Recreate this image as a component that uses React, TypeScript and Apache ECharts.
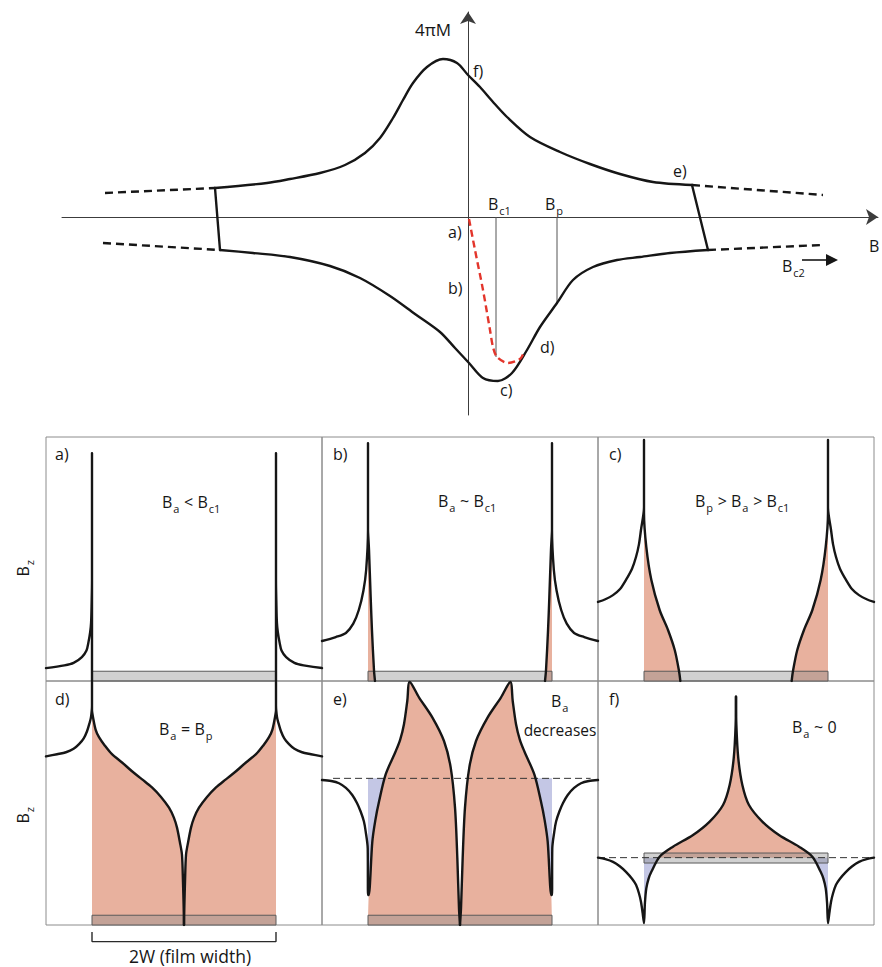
import React, { useEffect, useRef } from 'react';
import * as echarts from 'echarts';

const FONT = '"Open Sans", "Noto Sans", sans-serif';
const INK = '#161616';
const AXIS = '#3c3c3c';
const FRAME = '#8c8c8c';
const TRAPPED = '#e8b19e';
const REVERSED = '#c4c7e5';
const FILM = 'rgba(140,140,140,0.4)';
const FILM_EDGE = '#5a5a5a';
const VIRGIN = '#e3352b';

// ---------- magnetisation loop: x = applied field, y = 4πM ----------
const loopUpperLeftDash = [[-3.63, 0.24], [-2.53, 0.29]];
const loopUpperRightDash = [[2.24, 0.32], [3.55, 0.22]];
const loopLowerLeftDash = [[-3.65, -0.26], [-2.48, -0.33]];
const loopLowerRightDash = [[2.4, -0.33], [3.54, -0.28]];
const loopLeftJump = [[-2.53, 0.29], [-2.48, -0.33]];
const loopRightJump = [[2.24, 0.32], [2.4, -0.33]];
const loopUpper = [
  [-2.53, 0.29], [-2.01, 0.34], [-1.78, 0.38], [-1.48, 0.44], [-1.23, 0.52], [-1.03, 0.64],
  [-0.88, 0.79], [-0.75, 0.99], [-0.65, 1.17], [-0.55, 1.34], [-0.41, 1.5], [-0.25, 1.58],
  [-0.11, 1.54], [0, 1.42], [0.12, 1.3], [0.25, 1.15], [0.39, 1.0], [0.62, 0.8], [0.92, 0.65],
  [1.22, 0.53], [1.52, 0.43], [1.85, 0.35], [2.24, 0.32],
];
const loopLower = [
  [-2.48, -0.33], [-2.15, -0.36], [-1.78, -0.4], [-1.38, -0.49], [-1.08, -0.61], [-0.78, -0.79],
  [-0.53, -0.97], [-0.28, -1.15], [-0.13, -1.31], [0.01, -1.46], [0.15, -1.61], [0.3, -1.64],
  [0.44, -1.56], [0.59, -1.33], [0.72, -1.1], [0.89, -0.86], [1.05, -0.63], [1.25, -0.5],
  [1.49, -0.43], [1.72, -0.4], [2.02, -0.36], [2.4, -0.33],
];
const virginCurve = [
  [0.01, -0.02], [0.07, -0.33], [0.15, -0.73], [0.22, -1.13], [0.25, -1.3], [0.29, -1.4],
  [0.4, -1.46], [0.52, -1.42], [0.56, -1.35],
];
const fieldBc1 = [[0.28, 0], [0.28, -1.4]];
const fieldBp = [[0.89, 0], [0.89, -0.86]];

// ---------- Bz profiles across the strip: x in half-widths W, y in panel heights ----------
const filmStrip = [[-1, 0], [1, 0], [1, 0.04], [-1, 0.04]];

// a) Ba < Bc1
const aLeft = [[-1.5, 0.053], [-1.3, 0.064], [-1.2, 0.074], [-1.11, 0.098], [-1.06, 0.125], [-1.04, 0.156], [-1.02, 0.2], [-1.01, 0.238], [-1.004, 0.32], [-1.0, 0.414], [-1.0, 0.934], [-1.0, 0]];
const aRight = [[1.0, 0], [1.0, 0.934], [1.0, 0.414], [1.004, 0.32], [1.01, 0.238], [1.02, 0.2], [1.04, 0.156], [1.06, 0.125], [1.11, 0.098], [1.2, 0.074], [1.3, 0.064], [1.5, 0.053]];

// b) Ba ~ Bc1
const bTailL = [[-1.5, 0.164], [-1.35, 0.18], [-1.24, 0.197], [-1.16, 0.235], [-1.1, 0.291], [-1.05, 0.37], [-1.02, 0.455], [-1.0, 0.619], [-1.0, 0.975]];
const bFrontL = [[-1.0, 0.62], [-0.995, 0.58], [-0.989, 0.537], [-0.971, 0.344], [-0.957, 0.209], [-0.935, 0.045], [-0.924, 0]];
const bTailR = [[1.5, 0.164], [1.35, 0.18], [1.24, 0.197], [1.16, 0.235], [1.1, 0.291], [1.05, 0.37], [1.02, 0.455], [1.0, 0.619], [1.0, 0.975]];
const bFrontR = [[1.0, 0.62], [0.995, 0.58], [0.989, 0.537], [0.971, 0.344], [0.957, 0.209], [0.935, 0.045], [0.924, 0]];

// c) Bp > Ba > Bc1
const cTailL = [[-1.5, 0.324], [-1.42, 0.335], [-1.337, 0.352], [-1.26, 0.377], [-1.196, 0.414], [-1.13, 0.46], [-1.087, 0.508], [-1.055, 0.56], [-1.033, 0.619], [-1.0, 0.713], [-1.0, 0.988]];
const cFrontL = [[-1.0, 0.69], [-0.975, 0.55], [-0.92, 0.414], [-0.83, 0.291], [-0.739, 0.209], [-0.666, 0.127], [-0.62, 0.042], [-0.605, 0]];
const cTailR = [[1.5, 0.324], [1.42, 0.335], [1.337, 0.352], [1.26, 0.377], [1.196, 0.414], [1.13, 0.46], [1.087, 0.508], [1.055, 0.56], [1.033, 0.619], [1.0, 0.713], [1.0, 0.988]];
const cFrontR = [[1.0, 0.69], [0.975, 0.55], [0.92, 0.414], [0.83, 0.291], [0.739, 0.209], [0.666, 0.127], [0.62, 0.042], [0.605, 0]];

// d) Ba = Bp
const dTailL = [[-1.5, 0.691], [-1.38, 0.7], [-1.283, 0.708], [-1.2, 0.722], [-1.141, 0.741], [-1.09, 0.765], [-1.054, 0.794], [-1.025, 0.83], [-1.011, 0.852], [-1.0, 0.9], [-1.0, 0.996]];
const dFrontL = [[-1.0, 0.88], [-0.989, 0.852], [-0.96, 0.8], [-0.924, 0.77], [-0.86, 0.735], [-0.783, 0.7], [-0.67, 0.665], [-0.565, 0.63], [-0.455, 0.597], [-0.348, 0.564], [-0.25, 0.525], [-0.163, 0.481], [-0.11, 0.44], [-0.076, 0.399], [-0.045, 0.34], [-0.022, 0.288], [-0.011, 0.177], [-0.004, 0.08], [0, 0]];
const dTailR = [[1.5, 0.691], [1.38, 0.7], [1.283, 0.708], [1.2, 0.722], [1.141, 0.741], [1.09, 0.765], [1.054, 0.794], [1.025, 0.83], [1.011, 0.852], [1.0, 0.9], [1.0, 0.996]];
const dFrontR = [[1.0, 0.88], [0.989, 0.852], [0.96, 0.8], [0.924, 0.77], [0.86, 0.735], [0.783, 0.7], [0.67, 0.665], [0.565, 0.63], [0.455, 0.597], [0.348, 0.564], [0.25, 0.525], [0.163, 0.481], [0.11, 0.44], [0.076, 0.399], [0.045, 0.34], [0.022, 0.288], [0.011, 0.177], [0.004, 0.08], [0, 0]];

// e) Ba decreases
const eApplied = [[-1.38, 0.601], [1.42, 0.601]];
const eTailL = [[-1.5, 0.594], [-1.4, 0.59], [-1.315, 0.581], [-1.24, 0.562], [-1.171, 0.533], [-1.12, 0.5], [-1.08, 0.465], [-1.045, 0.425], [-1.025, 0.383], [-1.003, 0.314], [-1.0, 0.123]];
const eHumpL = [[-0.992, 0.123], [-0.953, 0.342], [-0.92, 0.43], [-0.88, 0.506], [-0.808, 0.617], [-0.699, 0.712], [-0.65, 0.76], [-0.609, 0.823], [-0.573, 0.918], [-0.547, 0.996], [-0.446, 0.933], [-0.301, 0.851], [-0.174, 0.754], [-0.101, 0.645], [-0.054, 0.48], [-0.029, 0.274], [-0.011, 0.069], [0, 0]];
const eTailR = [[1.5, 0.594], [1.4, 0.59], [1.315, 0.581], [1.24, 0.562], [1.171, 0.533], [1.12, 0.5], [1.08, 0.465], [1.045, 0.425], [1.025, 0.383], [1.003, 0.314], [1.0, 0.123]];
const eHumpR = [[0.992, 0.123], [0.953, 0.342], [0.92, 0.43], [0.88, 0.506], [0.808, 0.617], [0.699, 0.712], [0.65, 0.76], [0.609, 0.823], [0.573, 0.918], [0.547, 0.996], [0.446, 0.933], [0.301, 0.851], [0.174, 0.754], [0.101, 0.645], [0.054, 0.48], [0.029, 0.274], [0.011, 0.069], [0, 0]];
const eGapL = [[-1, 0.601], [-0.818, 0.601], [-0.88, 0.506], [-0.92, 0.43], [-0.953, 0.342], [-0.992, 0.123], [-1, 0.123]];
const eGapR = [[1, 0.601], [0.818, 0.601], [0.88, 0.506], [0.92, 0.43], [0.953, 0.342], [0.992, 0.123], [1, 0.123]];

// f) Ba ~ 0
const fAppliedLevel = 0.276;
const fApplied = [[-1.5, fAppliedLevel], [1.5, fAppliedLevel]];
const fFilm = [[-1, 0.254], [1, 0.254], [1, 0.295], [-1, 0.295]];
const fTailL = [[-1.5, 0.276], [-1.42, 0.27], [-1.337, 0.259], [-1.26, 0.24], [-1.196, 0.218], [-1.13, 0.19], [-1.087, 0.165], [-1.055, 0.13], [-1.033, 0.095], [-1.015, 0.05], [-1.0, 0.008]];
const fInnerL = [[-0.99, 0.09], [-0.975, 0.15], [-0.95, 0.19], [-0.92, 0.218], [-0.83, 0.28], [-0.685, 0.321], [-0.467, 0.369], [-0.286, 0.424], [-0.141, 0.492], [-0.069, 0.574], [-0.025, 0.683], [-0.004, 0.82], [0, 0.936]];
const fTailR = [[1.5, 0.276], [1.42, 0.27], [1.337, 0.259], [1.26, 0.24], [1.196, 0.218], [1.13, 0.19], [1.087, 0.165], [1.055, 0.13], [1.033, 0.095], [1.015, 0.05], [1.0, 0.008]];
const fInnerR = [[0.99, 0.09], [0.975, 0.15], [0.95, 0.19], [0.92, 0.218], [0.83, 0.28], [0.685, 0.321], [0.467, 0.369], [0.286, 0.424], [0.141, 0.492], [0.069, 0.574], [0.025, 0.683], [0.004, 0.82], [0, 0.936]];
const fTrapped = [[-0.836, 0.276], [-0.83, 0.28], [-0.685, 0.321], [-0.467, 0.369], [-0.286, 0.424], [-0.141, 0.492], [-0.069, 0.574], [-0.025, 0.683], [-0.004, 0.82], [0, 0.936], [0.004, 0.82], [0.025, 0.683], [0.069, 0.574], [0.141, 0.492], [0.286, 0.424], [0.467, 0.369], [0.685, 0.321], [0.83, 0.28], [0.836, 0.276]];
const fGapL = [[-1, 0.276], [-1, 0.008], [-0.99, 0.09], [-0.975, 0.15], [-0.95, 0.19], [-0.92, 0.218], [-0.836, 0.276]];
const fGapR = [[1, 0.276], [1, 0.008], [0.99, 0.09], [0.975, 0.15], [0.95, 0.19], [0.92, 0.218], [0.836, 0.276]];

const widthBracket = [[-1, -0.029], [-1, -0.068], [1, -0.068], [1, -0.029]];

type Pt = number[];
type Part = [string, boolean];

const SMOOTH = 0.3;
const MAIN = 16;
const SUB = 11;

const measureCtx = document.createElement('canvas').getContext('2d') as CanvasRenderingContext2D;
function textWidth(s: string, size: number) {
  measureCtx.font = `${size}px ${FONT}`;
  return measureCtx.measureText(s).width;
}

// A run of text with subscripts, placed by its baseline.
function textRun(parts: Part[], x: number, base: number, size = MAIN, anchor: 'left' | 'center' = 'left') {
  const widths = parts.map(([t, s]) => textWidth(t, s ? SUB : size) + (s ? 1.5 : 0));
  const total = widths.reduce((a, b) => a + b, 0);
  let cx = anchor === 'center' ? x - total / 2 : x;
  return parts.map(([t, s], i) => {
    const fs = s ? SUB : size;
    const el: any = {
      type: 'text',
      x: cx + (s ? 1 : 0),
      y: (s ? base + 5 : base) + fs * 0.27,
      silent: true,
      style: { text: t, font: `${fs}px ${FONT}`, fill: INK, align: 'left', verticalAlign: 'bottom' },
    };
    cx += widths[i];
    return el;
  });
}

// Same run turned a quarter-turn so that it reads upwards, centred on (cx, cy).
function upwardRun(parts: Part[], cx: number, cy: number) {
  return textRun(parts, 0, 5, MAIN, 'center').map((el) => ({
    ...el,
    x: cx + el.y,
    y: cy - el.x,
    rotation: Math.PI / 2,
  }));
}

function stroke(grid: number, data: Pt[], extra: any = {}) {
  return {
    type: 'line',
    xAxisIndex: grid,
    yAxisIndex: grid,
    data,
    symbol: 'none',
    showSymbol: false,
    silent: true,
    z: 5,
    lineStyle: { color: INK, width: 2.4, cap: 'round', join: 'round' },
    ...extra,
  };
}

const curve = (grid: number, data: Pt[]) => stroke(grid, data, { smooth: SMOOTH });

function dashed(grid: number, data: Pt[], color: string, width: number, dash: number[], z = 5, smooth: number | boolean = false) {
  return stroke(grid, data, { z, smooth, lineStyle: { color, width, type: dash, cap: 'butt' } });
}

// Filled area between a profile and a level (default: bottom of the panel).
function area(grid: number, data: Pt[], color: string, z = 2, origin: any = 'start') {
  return stroke(grid, data, {
    z,
    smooth: SMOOTH,
    lineStyle: { width: 0, opacity: 0 },
    areaStyle: { color, opacity: 1, origin },
  });
}

function region(grid: number, points: Pt[], fill: string, z = 1, edge = 'none') {
  return {
    type: 'custom',
    xAxisIndex: grid,
    yAxisIndex: grid,
    silent: true,
    z,
    data: [[0, 0]],
    renderItem: (_p: any, api: any) => ({
      type: 'polygon',
      shape: { points: points.map((p) => api.coord(p)) },
      style: { fill, stroke: edge, lineWidth: 1 },
    }),
  };
}

export default function App() {
  const ref = useRef<HTMLDivElement>(null);

  useEffect(() => {
    if (!ref.current) return;
    const chart = echarts.init(ref.current, undefined, { renderer: 'svg' });

    const colLeft = [46, 322, 598];
    const rowTop = [437, 681];
    const grids: any[] = [{ left: 62, top: 12, width: 816, height: 403, show: false }];
    const axisLine = { show: true, onZero: true, symbol: ['none', 'arrow'], symbolSize: [12, 12], lineStyle: { color: AXIS, width: 1 } };
    const xAxes: any[] = [{
      type: 'value', gridIndex: 0, min: -4.06, max: 4.1, axisLine,
      axisTick: { show: false }, axisLabel: { show: false }, splitLine: { show: false },
    }];
    const yAxes: any[] = [{
      type: 'value', gridIndex: 0, min: -1.98, max: 2.05, axisLine,
      axisTick: { show: false }, axisLabel: { show: false }, splitLine: { show: false },
    }];
    for (let r = 0; r < 2; r++) {
      for (let c = 0; c < 3; c++) {
        const gi = grids.length;
        grids.push({ left: colLeft[c], top: rowTop[r], width: 276, height: 244, show: true, borderColor: FRAME, borderWidth: 1, backgroundColor: 'transparent' });
        xAxes.push({ type: 'value', gridIndex: gi, min: -1.5, max: 1.5, show: false });
        yAxes.push({ type: 'value', gridIndex: gi, min: 0, max: 1, show: false });
      }
    }
    const [A, B, C, D, E, F] = [1, 2, 3, 4, 5, 6];

    const series: any[] = [
      // loop
      curve(0, loopUpper),
      curve(0, loopLower),
      stroke(0, loopLeftJump),
      stroke(0, loopRightJump),
      dashed(0, loopUpperLeftDash, INK, 2.4, [8, 5]),
      dashed(0, loopUpperRightDash, INK, 2.4, [8, 5]),
      dashed(0, loopLowerLeftDash, INK, 2.4, [8, 5]),
      dashed(0, loopLowerRightDash, INK, 2.4, [8, 5]),
      dashed(0, virginCurve, VIRGIN, 2.4, [7, 4], 6, SMOOTH),
      stroke(0, fieldBc1, { z: 3, lineStyle: { color: '#555', width: 1 } }),
      stroke(0, fieldBp, { z: 3, lineStyle: { color: '#555', width: 1 } }),

      // a)
      region(A, filmStrip, FILM, 3, FILM_EDGE),
      curve(A, aLeft),
      curve(A, aRight),

      // b)
      area(B, [[-1, 0], ...bFrontL], TRAPPED),
      area(B, [[1, 0], ...bFrontR], TRAPPED),
      region(B, filmStrip, FILM, 3, FILM_EDGE),
      curve(B, [...bTailL, ...bFrontL]),
      curve(B, [...bTailR, ...bFrontR]),

      // c)
      area(C, [[-1, 0], ...cFrontL], TRAPPED),
      area(C, [[1, 0], ...cFrontR], TRAPPED),
      region(C, filmStrip, FILM, 3, FILM_EDGE),
      curve(C, [...cTailL, ...cFrontL]),
      curve(C, [...cTailR, ...cFrontR]),

      // d)
      area(D, [[-1, 0], ...dFrontL], TRAPPED),
      area(D, [[1, 0], ...dFrontR], TRAPPED),
      region(D, filmStrip, FILM, 3, FILM_EDGE),
      curve(D, [...dTailL, ...dFrontL]),
      curve(D, [...dTailR, ...dFrontR]),
      stroke(D, widthBracket, { clip: false, lineStyle: { color: '#2a2a2a', width: 1.4 } }),

      // e)
      region(E, eGapL, REVERSED, 1),
      region(E, eGapR, REVERSED, 1),
      area(E, [[-1, 0], ...eHumpL], TRAPPED),
      area(E, [[1, 0], ...eHumpR], TRAPPED),
      region(E, filmStrip, FILM, 3, FILM_EDGE),
      dashed(E, eApplied, '#333', 1, [7, 4], 4),
      curve(E, [...eTailL, ...eHumpL]),
      curve(E, [...eTailR, ...eHumpR]),

      // f)
      region(F, fGapL, REVERSED, 1),
      region(F, fGapR, REVERSED, 1),
      area(F, fTrapped, TRAPPED, 2, fAppliedLevel),
      region(F, fFilm, FILM, 3, FILM_EDGE),
      dashed(F, fApplied, '#333', 1, [7, 4], 4),
      curve(F, [...fTailL, ...fInnerL]),
      curve(F, [...fTailR, ...fInnerR]),
    ];

    const elements: any[] = [
      ...textRun([['4πM', false]], 433, 33, 17, 'center'),
      ...textRun([['f)', false]], 473, 75),
      ...textRun([['e)', false]], 673, 175),
      ...textRun([['a)', false]], 448, 236),
      ...textRun([['b)', false]], 448, 292),
      ...textRun([['c)', false]], 500, 394),
      ...textRun([['d)', false]], 540, 351),
      ...textRun([['B', false], ['c1', true]], 488, 208),
      ...textRun([['B', false], ['p', true]], 545, 208),
      ...textRun([['B', false], ['c2', true]], 782, 270),
      ...textRun([['B', false]], 869, 250),
      { type: 'line', silent: true, shape: { x1: 802, y1: 260, x2: 828, y2: 260 }, style: { stroke: INK, lineWidth: 1.6 } },
      { type: 'polygon', silent: true, shape: { points: [[826, 254], [838, 260], [826, 266]] }, style: { fill: INK } },

      ...textRun([['a)', false]], 55, 458),
      ...textRun([['b)', false]], 333, 458),
      ...textRun([['c)', false]], 609, 458),
      ...textRun([['d)', false]], 55, 703),
      ...textRun([['e)', false]], 333, 703),
      ...textRun([['f)', false]], 609, 703),

      ...textRun([['B', false], ['a', true], [' < B', false], ['c1', true]], 162, 506),
      ...textRun([['B', false], ['a', true], [' ~ B', false], ['c1', true]], 438, 505),
      ...textRun([['B', false], ['p', true], [' > B', false], ['a', true], [' > B', false], ['c1', true]], 695, 505),
      ...textRun([['B', false], ['a', true], [' = B', false], ['p', true]], 159, 733),
      ...textRun([['B', false], ['a', true]], 551, 705),
      ...textRun([['decreases', false]], 560, 734, 15.5, 'center'),
      ...textRun([['B', false], ['a', true], [' ~ 0', false]], 792, 731),
      ...textRun([['2W (film width)', false]], 190, 960, 17.5, 'center'),
      ...upwardRun([['B', false], ['z', true]], 22, 568),
      ...upwardRun([['B', false], ['z', true]], 22, 815),
    ];

    chart.setOption({
      animation: false,
      backgroundColor: '#ffffff',
      grid: grids,
      xAxis: xAxes,
      yAxis: yAxes,
      series,
      graphic: { elements },
    });
    return () => chart.dispose();
  }, []);

  return <div ref={ref} style={{ position: 'absolute', left: 0, top: 0, width: 882, height: 967 }} />;
}
